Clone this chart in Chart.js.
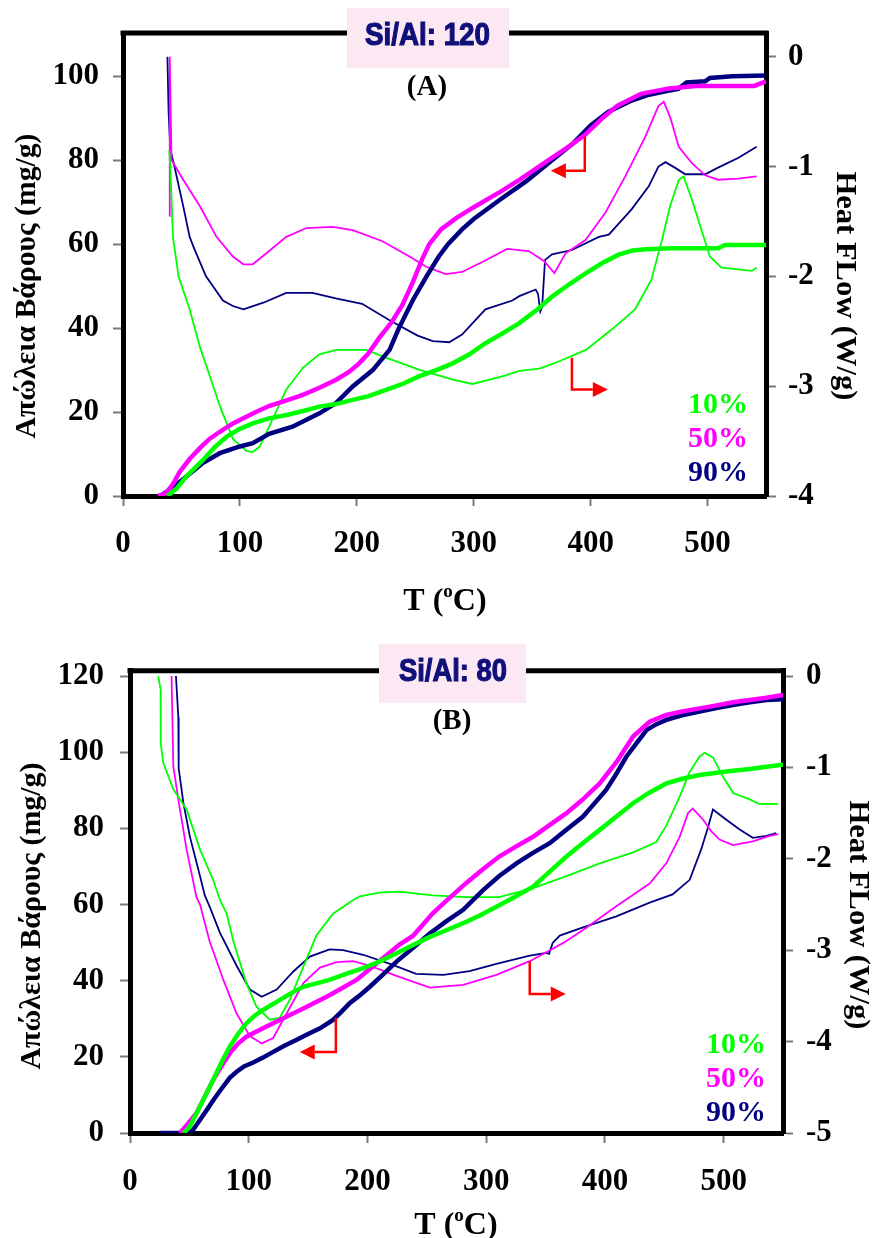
<!DOCTYPE html>
<html lang="el">
<head>
<meta charset="UTF-8">
<title>TG / DSC - Si/Al</title>
<script src="https://cdn.jsdelivr.net/npm/chart.js@4"></script>
<style>
  body { margin: 0; background: #fff; }
  #wrap { position: relative; width: 875px; height: 1238px; }
  canvas { position: absolute; left: 0; }
  #chartA { top: 0; }
  #chartB { top: 620px; }
</style>
</head>
<body>
<div id="wrap">
  <canvas id="chartA" width="875" height="620"></canvas>
  <canvas id="chartB" width="875" height="618"></canvas>
</div>
<script>
// ---- data: [T (oC), value] ----
const seriesLabels = ['10%', '50%', '90%'];
const seriesColors = ['#00ff00', '#ff00ff', '#000080'];
const panelTitles = ['Si/Al: 120', 'Si/Al: 80'];
const panelTags = ['(A)', '(B)'];

// panel A, weight loss (mg/g)
const tgA10 = [[38,0],[46,1.8],[54,4.6],[68.5,8.6],[78,11.5],[88.5,14.1],[100,16],[111,17.3],[125,18.5],[140,19.3],[155,20.3],[168,21.3],[182,21.9],[196.5,22.9],[210,23.8],[225,25.3],[240,26.8],[253,28.5],[268,30],[282,31.6],[296,33.7],[310,36.4],[325,38.8],[339,41.2],[356,44.8],[367,47.5],[382,50.5],[396,53.1],[410,55.5],[424,57.5],[436,58.5],[447,58.8],[470,59],[509,59],[515,59.8],[550,59.8]];
const tgA50 = [[30,0],[36,0.5],[42,2.5],[48.6,5.8],[57,8.8],[65.7,11.4],[74,13.6],[82.8,15.3],[94,17.3],[105.5,18.9],[115,20.2],[125.4,21.5],[140,22.8],[153.8,24.1],[168,25.8],[182.3,27.7],[193,29.5],[202,31.6],[210,34],[219,37.6],[230,41.5],[239,45.5],[248,51],[256,56.5],[262,60],[272,63.5],[285,66.2],[300,68.8],[323,72.5],[340,75.5],[364,80],[380,83],[395,86],[410,90],[423,93],[443,95.8],[467,97.1],[490,97.7],[540,97.7],[550,98.8]];
const tgA90 = [[32,0],[40,1.5],[54,4.6],[68.5,7.9],[82.8,10.2],[100,11.8],[111,12.6],[125,14.8],[145,16.5],[168,19.7],[182,22.1],[196.5,26.1],[213.6,30],[228,34.8],[236,40],[248,46.7],[260,52.5],[270,57],[278,60],[290,63.5],[300,66],[323,70.7],[345,75],[367,80],[385,84],[400,88.3],[415,91.5],[435,94.2],[450,95.6],[464,96.4],[475,97],[482,98.5],[498,98.8],[502,99.6],[521,100],[550,100.2]];
// panel A, heat flow (W/g)
const dscA10 = [[39.5,-0.85],[40.5,-1.0],[42.7,-1.64],[47.5,-2.0],[57,-2.3],[65.7,-2.64],[74,-2.9],[82.8,-3.18],[94,-3.48],[105.5,-3.59],[111,-3.6],[117,-3.55],[128,-3.3],[139.7,-3.03],[154,-2.83],[168,-2.71],[182.3,-2.67],[208,-2.67],[225,-2.74],[253,-2.85],[282,-2.94],[299,-2.98],[324.5,-2.91],[339,-2.86],[356,-2.84],[367,-2.8],[396,-2.67],[418.5,-2.48],[438,-2.3],[452,-2.03],[461,-1.67],[468,-1.36],[475.5,-1.12],[479.5,-1.09],[486.6,-1.3],[494,-1.55],[502,-1.82],[512,-1.92],[538,-1.95],[542,-1.92]];
const dscA50 = [[39.5,-1.45],[40,0],[41.5,-0.94],[51.5,-1.12],[65.7,-1.36],[80,-1.64],[94,-1.82],[103,-1.89],[111,-1.89],[122.6,-1.79],[139.7,-1.64],[156.8,-1.56],[179.5,-1.55],[196.5,-1.58],[222,-1.68],[245,-1.82],[259,-1.91],[276,-1.98],[290,-1.96],[309,-1.86],[328.5,-1.75],[347,-1.77],[360,-1.86],[369,-1.97],[378.6,-1.79],[395.6,-1.67],[412.6,-1.42],[429.6,-1.09],[446.7,-0.73],[458,-0.45],[462.5,-0.41],[468,-0.55],[475.4,-0.82],[486.6,-0.97],[498,-1.08],[509,-1.12],[526,-1.11],[542,-1.09]];
const dscA90 = [[38,0],[39,-0.5],[40.5,-0.85],[44,-1.0],[51.5,-1.36],[57,-1.64],[61,-1.75],[71,-2.0],[85.5,-2.22],[94,-2.27],[103,-2.3],[120,-2.24],[139.7,-2.15],[162,-2.15],[182,-2.2],[204.5,-2.25],[228,-2.4],[252,-2.54],[265,-2.59],[279,-2.6],[290,-2.53],[310,-2.3],[333,-2.22],[339,-2.18],[353,-2.12],[355,-2.16],[357,-2.32],[358.5,-2.28],[361,-1.85],[367,-1.8],[384,-1.76],[407,-1.64],[415.5,-1.62],[435,-1.39],[449.7,-1.18],[458,-1.0],[464,-0.96],[472,-1.01],[481,-1.07],[498,-1.07],[509,-1.01],[526.5,-0.92],[542,-0.82]];

// panel B, weight loss (mg/g)
const tgB10 = [[45,0],[50,1.5],[56,5.2],[63,9.5],[70,13.9],[77,18.5],[84,22.7],[91,26],[98,28.8],[105,30.8],[112,32.3],[126,34.9],[136,36.8],[146,38.4],[168,40.2],[182,41.8],[196.4,43.3],[210,45],[224.5,47.2],[238,49.3],[252.5,51.5],[267,53.3],[280.6,55.1],[295,57.2],[308.6,59.4],[324,62],[339.5,64.7],[353,68.5],[367.6,72.6],[381,76],[395.6,79.6],[410,83.2],[423.7,86.6],[437,89.3],[451.7,91.8],[466,93.1],[479.8,94],[494,94.6],[507.8,95.1],[522,95.6],[536,96.2],[550,96.7]];
const tgB50 = [[42,0],[49,2.5],[56,5.2],[63,9.5],[70,13.9],[77,17.5],[84,20.9],[91,23.5],[98,25.3],[112,27.5],[126,29.7],[146,32.7],[168,36.2],[190.8,40.2],[213,45.9],[227,49.5],[238.5,51.8],[255,57.7],[266.6,61],[283,65.6],[297,69.2],[311,72.6],[325,75.2],[339.5,77.8],[353,80.8],[367.6,84],[381,87.5],[395.6,91.8],[410,97.5],[423.7,104.1],[437.7,108],[451.7,109.8],[465,110.7],[479.8,111.5],[494,112.3],[507.8,113.1],[522,113.7],[536,114.3],[550,115]];
const tgB90 = [[25,0],[44,0],[53,0.8],[58,3],[64.5,6],[71,9],[78.5,12.2],[84,14.5],[89.8,16.1],[96,17.5],[103.8,18.5],[112,19.8],[120.6,21.3],[130,22.9],[140,24.4],[150,26],[160,27.5],[171,29.7],[178,31.8],[185,34.1],[193,36],[202,38.4],[213,41.6],[224.5,45],[238,48.5],[252.5,52.4],[266,55.5],[280.6,58.6],[297.4,63.8],[311,67.5],[325.5,70.8],[339,73.5],[353.5,76.1],[367,79.5],[381.6,83.1],[391,86.5],[401,90.1],[409,94],[418,98.8],[427,102.5],[435,105.8],[443,107.3],[451.7,108.5],[465,109.7],[479.8,110.7],[494,111.6],[507.8,112.4],[522,113.1],[536,113.7],[550,113.9]];
// panel B, heat flow (W/g)
const dscB10 = [[23.8,0],[25.8,-0.15],[25.9,-0.74],[28,-0.95],[36.5,-1.24],[47.7,-1.46],[59,-1.9],[70,-2.23],[75.8,-2.45],[81.4,-2.6],[87,-2.9],[98,-3.36],[106.6,-3.62],[117.8,-3.76],[126,-3.74],[134.7,-3.54],[146,-3.18],[157,-2.84],[171,-2.6],[188,-2.45],[193.6,-2.41],[210,-2.37],[227,-2.36],[255,-2.4],[283,-2.42],[311,-2.42],[339.5,-2.32],[367.6,-2.19],[395.6,-2.05],[423.7,-1.93],[443,-1.82],[451.6,-1.64],[463,-1.32],[471,-1.06],[479.8,-0.88],[484,-0.84],[491,-0.89],[499.4,-1.1],[508,-1.28],[522,-1.35],[530,-1.4],[546,-1.4]];
const dscB50 = [[35,0],[36.5,-0.99],[40.7,-1.35],[47.7,-1.9],[56,-2.42],[59,-2.5],[67,-2.9],[78.5,-3.32],[89.7,-3.69],[101,-3.94],[111,-4.02],[120.6,-3.96],[132,-3.69],[146,-3.36],[160,-3.19],[174,-3.13],[188,-3.12],[202,-3.17],[224.5,-3.28],[252.5,-3.41],[280.6,-3.38],[308.6,-3.27],[336.7,-3.12],[351,-3.02],[365,-2.92],[381.6,-2.78],[409.6,-2.52],[437.7,-2.27],[451.7,-2.05],[463,-1.76],[470,-1.5],[474,-1.45],[482.6,-1.57],[489.6,-1.7],[496.6,-1.79],[507.8,-1.85],[524.6,-1.81],[538.7,-1.75],[546,-1.73]];
const dscB90 = [[38.7,0],[40.7,-0.45],[41,-1.01],[45,-1.39],[50.5,-1.76],[59,-2.19],[63,-2.4],[67,-2.52],[75.8,-2.81],[89.8,-3.17],[101,-3.43],[111,-3.51],[123.5,-3.43],[137.8,-3.23],[151.5,-3.07],[168,-2.99],[179.5,-3],[196.4,-3.05],[219,-3.15],[241,-3.26],[264,-3.27],[286,-3.23],[308.6,-3.15],[336.7,-3.06],[350.7,-3.03],[353,-3.04],[356,-2.92],[362,-2.84],[381.6,-2.75],[409.6,-2.63],[437.7,-2.48],[457,-2.39],[471.4,-2.23],[481,-1.9],[487,-1.65],[491,-1.46],[502,-1.57],[513.5,-1.68],[524.6,-1.77],[536,-1.75],[544.3,-1.72]];

// red arrows that point to each curve family's axis (data coordinates)
const arrowsA = [{axis: 'y', x: 395, top: 85.6, bottom: 77.5, tip: 366}, {axis: 'y2', x: 384, top: -2.74, bottom: -3.03, tip: 414.7}];
const arrowsB = [{axis: 'y', x: 173.4, top: 30.2, bottom: 21.3, tip: 143}, {axis: 'y2', x: 336.7, top: -3.12, bottom: -3.48, tip: 367}];

const serif = '"Liberation Serif", "Times New Roman", serif';
const sans = '"Liberation Sans", Arial, sans-serif';

function stretchText(ctx, txt, cx, cy, len, rot, outline) {
  ctx.save();
  ctx.translate(cx, cy);
  ctx.rotate(rot);
  const w = ctx.measureText(txt).width;
  if (len) ctx.scale(len / w, 1);
  ctx.fillText(txt, 0, 0);
  if (outline) {
    ctx.strokeStyle = ctx.fillStyle;
    ctx.lineWidth = outline;
    ctx.strokeText(txt, 0, 0);
  }
  ctx.restore();
}

const deco = {
  id: 'deco',
  afterDraw(chart, args, o) {
    const ctx = chart.ctx, ca = chart.chartArea;
    const xs = chart.scales.x;
    ctx.save();
    // top edge of the frame
    ctx.strokeStyle = '#000';
    ctx.lineWidth = 5;
    ctx.beginPath();
    ctx.moveTo(ca.left - 2.5, ca.top);
    ctx.lineTo(ca.right + 2.5, ca.top);
    ctx.stroke();

    // arrows
    ctx.strokeStyle = '#ff0000';
    ctx.fillStyle = '#ff0000';
    ctx.lineWidth = 2.5;
    o.arrows.forEach(a => {
      const ys = chart.scales[a.axis];
      const px = xs.getPixelForValue(a.x), pt = ys.getPixelForValue(a.top), pb = ys.getPixelForValue(a.bottom);
      const tip = xs.getPixelForValue(a.tip);
      const dir = Math.sign(tip - px), base = tip - dir * 15;
      ctx.beginPath();
      ctx.moveTo(px, pt); ctx.lineTo(px, pb); ctx.lineTo(base, pb);
      ctx.stroke();
      ctx.beginPath();
      ctx.moveTo(tip, pb); ctx.lineTo(base, pb - 7.5); ctx.lineTo(base, pb + 7.5);
      ctx.closePath();
      ctx.fill();
    });

    // title box
    ctx.fillStyle = '#fce8f3';
    ctx.fillRect(o.box[0], o.box[1], o.box[2], o.box[3]);
    ctx.fillStyle = '#10107a';
    ctx.textAlign = 'center';
    ctx.textBaseline = 'middle';
    ctx.font = 'bold 32px ' + sans;
    stretchText(ctx, o.title, o.titlePos[0], o.titlePos[1], o.titlePos[2], 0, 1.2);

    ctx.fillStyle = '#000';
    ctx.font = 'bold 29px ' + serif;
    ctx.fillText(o.tag, o.tagPos[0], o.tagPos[1]);

    // legend text
    ctx.font = 'bold 30px ' + serif;
    ctx.textAlign = 'right';
    seriesLabels.forEach((s, i) => {
      ctx.fillStyle = seriesColors[i];
      ctx.fillText(s, o.legendX, o.legendY[i]);
    });

    // axis titles
    ctx.fillStyle = '#000';
    ctx.textAlign = 'center';
    ctx.font = 'bold 30px ' + serif;
    stretchText(ctx, 'Απώλεια Βάρους (mg/g)', o.yTitle[0], o.yTitle[1], o.yTitle[2], -Math.PI / 2);
    stretchText(ctx, 'Heat FLow (W/g)', o.y2Title[0], o.y2Title[1], o.y2Title[2], Math.PI / 2);

    // T (oC)
    ctx.textAlign = 'left';
    ctx.textBaseline = 'alphabetic';
    ctx.font = 'bold 32px ' + serif;
    const wa = ctx.measureText('T (').width, wb = ctx.measureText('C)').width;
    ctx.font = 'bold 19px ' + serif;
    const wo = ctx.measureText('o').width;
    let x = o.xTitle[0] - (wa + wo + wb) / 2;
    const base = o.xTitle[1] + 11;
    ctx.font = 'bold 32px ' + serif;
    ctx.fillText('T (', x, base); x += wa;
    ctx.font = 'bold 19px ' + serif;
    ctx.fillText('o', x, base - 13); x += wo;
    ctx.font = 'bold 32px ' + serif;
    ctx.fillText('C)', x, base);
    ctx.restore();
  }
};

function lineSet(pts, color, axis, width) {
  return {
    data: pts.map(p => ({x: p[0], y: p[1]})),
    borderColor: color,
    borderWidth: width,
    pointRadius: 0,
    tension: 0,
    fill: false,
    yAxisID: axis
  };
}

function makeChart(id, tg, dsc, L) {
  const tickFont = {family: serif, size: 31, weight: 'bold'};
  const grid = {drawOnChartArea: false, drawTicks: true, tickLength: 10, color: '#7a7a7a', tickWidth: 2};
  const border = {display: true, color: '#000', width: 5};
  const datasets = [];
  tg.forEach((s, i) => datasets.push(lineSet(s, seriesColors[i], 'y', 4.5)));
  dsc.forEach((s, i) => datasets.push(lineSet(s, seriesColors[i], 'y2', 1.8)));
  return new Chart(document.getElementById(id), {
    type: 'line',
    data: {datasets: datasets},
    options: {
      responsive: false,
      animation: false,
      devicePixelRatio: 1,
      layout: {padding: {top: L.padTop, left: 0, right: 0, bottom: 0}},
      plugins: {
        legend: {display: false},
        tooltip: {enabled: false},
        deco: L
      },
      scales: {
        x: {
          type: 'linear', position: 'bottom', min: 0, max: 550,
          ticks: {stepSize: 100, includeBounds: false, font: tickFont, color: '#000', padding: L.xPad, maxRotation: 0, autoSkip: false},
          grid: grid, border: border,
          afterFit: s => { s.height = L.bottomH; }
        },
        y: {
          type: 'linear', position: 'left', min: 0, max: L.wMax,
          ticks: {stepSize: 20, includeBounds: false, font: tickFont, color: '#000', padding: L.yPad},
          grid: grid, border: border,
          afterFit: s => { s.width = L.leftW; }
        },
        y2: {
          type: 'linear', position: 'right', min: L.hMin, max: L.hMax,
          ticks: {stepSize: 1, includeBounds: false, font: tickFont, color: '#000', padding: L.y2Pad},
          grid: grid, border: border,
          afterFit: s => { s.width = L.rightW; }
        }
      }
    },
    plugins: [deco]
  });
}

makeChart('chartA', [tgA10, tgA50, tgA90], [dscA10, dscA50, dscA90], {
  padTop: 33, leftW: 123, rightW: 109, bottomH: 124,
  wMax: 110.3, hMin: -4, hMax: 0.216,
  xPad: 19, yPad: 14, y2Pad: 12,
  arrows: arrowsA,
  title: panelTitles[0], box: [347, 8, 162, 60], titlePos: [427.5, 36, 125],
  tag: panelTags[0], tagPos: [427, 88],
  legendX: 748, legendY: [405, 439, 473],
  yTitle: [27, 286, 305], y2Title: [845, 286, 229], xTitle: [445, 599]
});

makeChart('chartB', [tgB10, tgB50, tgB90], [dscB10, dscB50, dscB90], {
  padTop: 50.7, leftW: 130, rightW: 92, bottomH: 105,
  wMax: 121.4, hMin: -5, hMax: 0.058,
  xPad: 20, yPad: 16, y2Pad: 13,
  arrows: arrowsB,
  title: panelTitles[1], box: [379, 24, 147, 59], titlePos: [453, 52, 108],
  tag: panelTags[1], tagPos: [452, 102],
  legendX: 766, legendY: [425, 459, 493],
  yTitle: [32, 296, 307], y2Title: [858, 295, 229], xTitle: [456, 603]
});
</script>
</body>
</html>
